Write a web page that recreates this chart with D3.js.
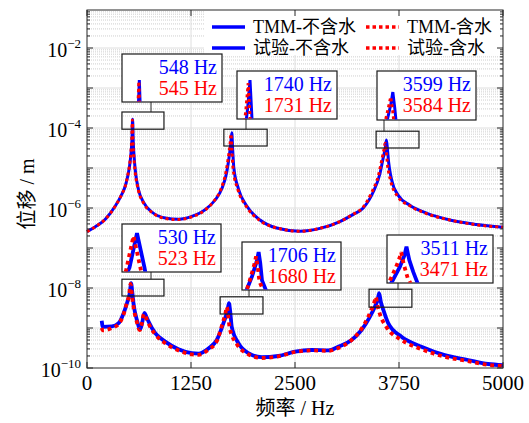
<!DOCTYPE html>
<meta charset="utf-8">
<head>
<style>
  body { margin: 0; background: #fff; }
  .grid-major { stroke: #dedede; stroke-width: 1; }
  .grid-minor { stroke: #cfcfcf; stroke-width: 1; stroke-dasharray: 1,1; }
  .frame { fill: none; stroke: #262626; stroke-width: 1; }
  .tick { stroke: #262626; stroke-width: 1; }
  .zoombox { fill: none; stroke: #1a1a1a; stroke-width: 1.2; }
  .panel { fill: #fff; stroke: #1a1a1a; stroke-width: 1.2; }
</style>
</head>
<body>
<svg id="chart" width="529" height="423"></svg>
<script src="https://cdn.jsdelivr.net/npm/d3@7"></script>
<script>
// ---- data (frequency in Hz, displacement as log10 of metres) ----
const tmmDryF  = [0,100,220,340,420,460,490,512,530,540,548,556,566,580,620,680,780,940,1100,1260,1420,1540,1620,1680,1710,1728,1740,1750,1765,1820,1920,2080,2280,2560,2800,3040,3200,3320,3440,3520,3560,3585,3599,3612,3625,3662,3740,3880,4080,4360,4680,5000];
const tmmDryLg = [-6.59,-6.47,-6.28,-5.95,-5.65,-5.45,-5.2,-4.95,-4.6,-4.3,-3.78,-4.35,-4.7,-5.05,-5.55,-5.86,-6.1,-6.25,-6.28,-6.21,-6.04,-5.8,-5.52,-5.1,-4.7,-4.4,-4.12,-4.5,-5.0,-5.52,-5.95,-6.3,-6.5,-6.58,-6.51,-6.34,-6.16,-6.0,-5.6,-5.15,-4.75,-4.5,-4.3,-4.55,-4.85,-5.3,-5.68,-5.93,-6.13,-6.3,-6.41,-6.48];

const tmmWetF  = [0,100,220,340,420,460,488,509,527,537,545,553,563,577,618,678,780,940,1100,1260,1420,1535,1612,1670,1700,1719,1731,1741,1756,1812,1915,2075,2280,2560,2800,3040,3195,3310,3425,3505,3545,3570,3584,3597,3610,3650,3730,3875,4080,4360,4680,5000];
const tmmWetLg = [-6.59,-6.47,-6.28,-5.95,-5.65,-5.45,-5.2,-4.96,-4.62,-4.32,-3.8,-4.37,-4.72,-5.06,-5.56,-5.87,-6.11,-6.26,-6.29,-6.22,-6.05,-5.8,-5.52,-5.1,-4.72,-4.42,-4.15,-4.52,-5.02,-5.53,-5.96,-6.31,-6.5,-6.58,-6.51,-6.34,-6.16,-6.0,-5.6,-5.17,-4.78,-4.53,-4.38,-4.58,-4.88,-5.32,-5.7,-5.94,-6.14,-6.3,-6.42,-6.48];

const testDryF  = [177,190,300,380,440,480,515,530,545,560,600,640,665,690,710,740,820,940,1100,1260,1340,1460,1560,1640,1690,1706,1722,1740,1820,1940,2100,2300,2500,2700,2900,3020,3180,3300,3400,3460,3495,3511,3532,3562,3620,3780,4020,4300,4580,4820,5000];
const testDryLg = [-8.82,-8.97,-8.96,-8.88,-8.63,-8.38,-8.12,-7.88,-8.12,-8.4,-8.8,-9.03,-8.85,-8.62,-8.7,-8.84,-9.13,-9.34,-9.53,-9.63,-9.64,-9.51,-9.3,-8.88,-8.55,-8.38,-8.6,-8.97,-9.38,-9.63,-9.73,-9.7,-9.59,-9.55,-9.56,-9.47,-9.3,-9.05,-8.72,-8.47,-8.28,-8.13,-8.35,-8.55,-8.88,-9.22,-9.47,-9.68,-9.8,-9.9,-9.93];

const testWetF  = [177,190,300,380,440,475,508,523,538,555,595,635,660,685,705,735,820,940,1100,1260,1340,1460,1560,1620,1665,1680,1696,1715,1800,1940,2100,2300,2500,2700,2900,3020,3180,3300,3380,3430,3458,3471,3490,3520,3600,3780,4020,4300,4580,4820,5000];
const testWetLg = [-9.0,-9.06,-9.0,-8.9,-8.66,-8.4,-8.14,-7.9,-8.14,-8.42,-8.82,-9.05,-8.88,-8.65,-8.72,-8.87,-9.16,-9.38,-9.56,-9.66,-9.67,-9.54,-9.33,-8.95,-8.62,-8.47,-8.68,-9.0,-9.4,-9.66,-9.75,-9.71,-9.6,-9.56,-9.57,-9.5,-9.3,-9.02,-8.72,-8.48,-8.32,-8.22,-8.42,-8.65,-8.98,-9.3,-9.53,-9.72,-9.83,-9.92,-9.95];

const tmmPeaks  = [[548, 545], [1740, 1731], [3599, 3584]];
const testPeaks = [[530, 523], [1706, 1680], [3511, 3471]];

const xTicks = [0, 1250, 2500, 3750, 5000];
const yLabelExp = [-10, -8, -6, -4, -2];
const legendLabels = ['TMM-不含水', 'TMM-含水', '试验-不含水', '试验-含水'];

const BLUE = '#0000ff', RED = '#ff0000';
const FONT = "'Liberation Serif', Tinos, 'DejaVu Serif', 'Noto Sans CJK SC', serif";

const zip = (f, v) => f.map((d, i) => [d, v[i]]);
const tmmDry = zip(tmmDryF, tmmDryLg), tmmWet = zip(tmmWetF, tmmWetLg);
const testDry = zip(testDryF, testDryLg), testWet = zip(testWetF, testWetLg);

const svg = d3.select('#chart');
const x = d3.scaleLinear().domain([0, 5000]).range([87, 503]);
const y = d3.scaleLog().domain([1e-10, Math.pow(10, -1.05)]).range([368, 10]);

function label(sel, size) {
  return sel.append('text').style('font-family', FONT).style('font-size', size + 'px').attr('fill', '#000');
}

// grid
const grid = svg.append('g');
const minor = [];
d3.range(-10, -1).forEach(e => d3.range(2, 10).forEach(k => {
  const v = k * Math.pow(10, e);
  if (v < y.domain()[1]) minor.push(v);
}));
grid.selectAll('.gm').data(minor).enter().append('line').attr('class', 'grid-minor')
  .attr('x1', x(0)).attr('x2', x(5000)).attr('y1', d => y(d)).attr('y2', d => y(d));
const decades = d3.range(-9, -1).map(e => Math.pow(10, e));
grid.selectAll('.gd').data(decades).enter().append('line').attr('class', 'grid-major')
  .attr('x1', x(0)).attr('x2', x(5000)).attr('y1', d => y(d)).attr('y2', d => y(d));
grid.selectAll('.gx').data(xTicks.slice(1, -1)).enter().append('line').attr('class', 'grid-major')
  .attr('x1', d => x(d)).attr('x2', d => x(d)).attr('y1', y.range()[0]).attr('y2', y.range()[1]);

// curves
function drawSeries(g, data, xs, ys, color, dotted, width, curve) {
  const line = d3.line().x(d => xs(d[0])).y(d => ys(Math.pow(10, d[1]))).curve(curve);
  g.append('path').datum(data).attr('d', line)
    .attr('fill', 'none').attr('stroke', color).attr('stroke-width', width)
    .attr('stroke-dasharray', dotted ? (width + ',' + width) : null);
}
const curves = svg.append('g');
drawSeries(curves, tmmDry, x, y, BLUE, false, 3, d3.curveMonotoneX);
drawSeries(curves, tmmWet, x, y, RED, true, 3, d3.curveMonotoneX);
drawSeries(curves, testDry, x, y, BLUE, false, 3.8, d3.curveMonotoneX);
drawSeries(curves, testWet, x, y, RED, true, 3.8, d3.curveMonotoneX);

// legend
const leg = svg.append('g');
leg.append('rect').attr('x', 204).attr('y', 11).attr('width', 298).attr('height', 44).attr('fill', '#fff');
const legItems = [
  {lx: 212, ly: 27, c: BLUE, dot: false}, {lx: 366, ly: 27, c: RED, dot: true},
  {lx: 212, ly: 48, c: BLUE, dot: false}, {lx: 366, ly: 48, c: RED, dot: true}
];
legItems.forEach((it, i) => {
  leg.append('line').attr('x1', it.lx).attr('x2', it.lx + 33).attr('y1', it.ly).attr('y2', it.ly)
    .attr('stroke', it.c).attr('stroke-width', 3.5).attr('stroke-dasharray', it.dot ? '3.5,3' : null);
  label(leg, 18).attr('x', it.lx + 41).attr('y', it.ly + 6).text(legendLabels[i]);
});

// zoom boxes and inset panels
const insets = [
  {zoom: [420, 925, -4.03, -3.6],  panel: [122, 54, 100, 48],  cx: 151, xd: [444, 1044],   yd: [-4.1, -3.4],    sets: [tmmDry, tmmWet],   peaks: tmmPeaks[0],  w: 3},
  {zoom: [1645, 2165, -4.45, -4.03], panel: [237, 71, 100, 48], cx: 246, xd: [1675, 2175], yd: [-4.5, -4.03],   sets: [tmmDry, tmmWet],   peaks: tmmPeaks[1],  w: 3},
  {zoom: [3475, 3990, -4.5, -4.08], panel: [377, 71, 99, 49],   cx: 384, xd: [3487, 4187], yd: [-4.756, -3.956], sets: [tmmDry, tmmWet],  peaks: tmmPeaks[2],  w: 3},
  {zoom: [420, 925, -8.2, -7.78],  panel: [122, 224, 99, 48],   cx: 151, xd: [500, 698],   yd: [-8.15, -7.817], sets: [testDry, testWet], peaks: testPeaks[0], w: 3.8},
  {zoom: [1600, 2115, -8.65, -8.22], panel: [242, 242, 99, 48], cx: 249, xd: [1538, 2538], yd: [-9.17, -8.17],  sets: [testDry, testWet], peaks: testPeaks[1], w: 3.8},
  {zoom: [3390, 3905, -8.48, -8.03], panel: [387, 235, 106, 48], cx: 398, xd: [3364, 4164], yd: [-8.734, -7.934], sets: [testDry, testWet], peaks: testPeaks[2], w: 3.8}
];

insets.forEach((d, i) => {
  const z = d.zoom, p = d.panel;
  const zx0 = x(z[0]), zx1 = x(z[1]), zy0 = y(Math.pow(10, z[3])), zy1 = y(Math.pow(10, z[2]));
  svg.append('rect').attr('class', 'zoombox').attr('x', zx0).attr('y', zy0)
    .attr('width', zx1 - zx0).attr('height', zy1 - zy0);
  svg.append('line').attr('class', 'tick').attr('stroke-width', 1.2)
    .attr('x1', d.cx).attr('x2', d.cx).attr('y1', p[1] + p[3]).attr('y2', zy0);

  const g = svg.append('g');
  g.append('rect').attr('class', 'panel').attr('x', p[0]).attr('y', p[1]).attr('width', p[2]).attr('height', p[3]);
  const cid = 'clip' + i;
  svg.append('clipPath').attr('id', cid).append('rect')
    .attr('x', p[0] + 0.6).attr('y', p[1] + 0.6).attr('width', p[2] - 1.2).attr('height', p[3] - 1.2);
  const ix = d3.scaleLinear().domain(d.xd).range([p[0], p[0] + p[2]]);
  const iy = d3.scaleLog().domain(d.yd.map(v => Math.pow(10, v))).range([p[1] + p[3], p[1]]);
  const cg = g.append('g').attr('clip-path', 'url(#' + cid + ')');
  drawSeries(cg, d.sets[0], ix, iy, BLUE, false, d.w, d3.curveLinear);
  drawSeries(cg, d.sets[1], ix, iy, RED, true, d.w, d3.curveLinear);
  label(g, 20).attr('x', p[0] + p[2] - 5).attr('y', p[1] + 20).attr('text-anchor', 'end')
    .attr('fill', BLUE).text(d.peaks[0] + ' Hz');
  label(g, 20).attr('x', p[0] + p[2] - 5).attr('y', p[1] + 41).attr('text-anchor', 'end')
    .attr('fill', RED).text(d.peaks[1] + ' Hz');
});

// frame and ticks
const [x0, x1] = x.range(), [yb, yt] = y.range();
svg.append('rect').attr('class', 'frame').attr('x', x0).attr('y', yt).attr('width', x1 - x0).attr('height', yb - yt);
const ticks = svg.append('g');
minor.forEach(v => {
  ticks.append('line').attr('class', 'tick').attr('x1', x0).attr('x2', x0 + 3).attr('y1', y(v)).attr('y2', y(v));
  ticks.append('line').attr('class', 'tick').attr('x1', x1).attr('x2', x1 - 3).attr('y1', y(v)).attr('y2', y(v));
});
d3.range(-10, -1).map(e => Math.pow(10, e)).forEach(v => {
  ticks.append('line').attr('class', 'tick').attr('x1', x0).attr('x2', x0 + 6).attr('y1', y(v)).attr('y2', y(v));
  ticks.append('line').attr('class', 'tick').attr('x1', x1).attr('x2', x1 - 6).attr('y1', y(v)).attr('y2', y(v));
});
xTicks.forEach(v => {
  ticks.append('line').attr('class', 'tick').attr('x1', x(v)).attr('x2', x(v)).attr('y1', yb).attr('y2', yb - 6);
  ticks.append('line').attr('class', 'tick').attr('x1', x(v)).attr('x2', x(v)).attr('y1', yt).attr('y2', yt + 6);
  label(svg, 21).attr('x', x(v)).attr('y', 390).attr('text-anchor', 'middle').text(v);
});
yLabelExp.forEach(e => {
  const t = label(svg, 20).attr('x', 81).attr('y', y(Math.pow(10, e)) + 9).attr('text-anchor', 'end');
  t.append('tspan').text('10');
  t.append('tspan').attr('dy', -9).style('font-size', '13px').text('\u2212' + Math.abs(e));
});

// axis titles
label(svg, 20).attr('x', 295).attr('y', 415).attr('text-anchor', 'middle').text('频率 / Hz');
label(svg, 20).attr('transform', 'translate(34,194) rotate(-90)').attr('text-anchor', 'middle').text('位移 / m');
</script>
</body>
</html>
